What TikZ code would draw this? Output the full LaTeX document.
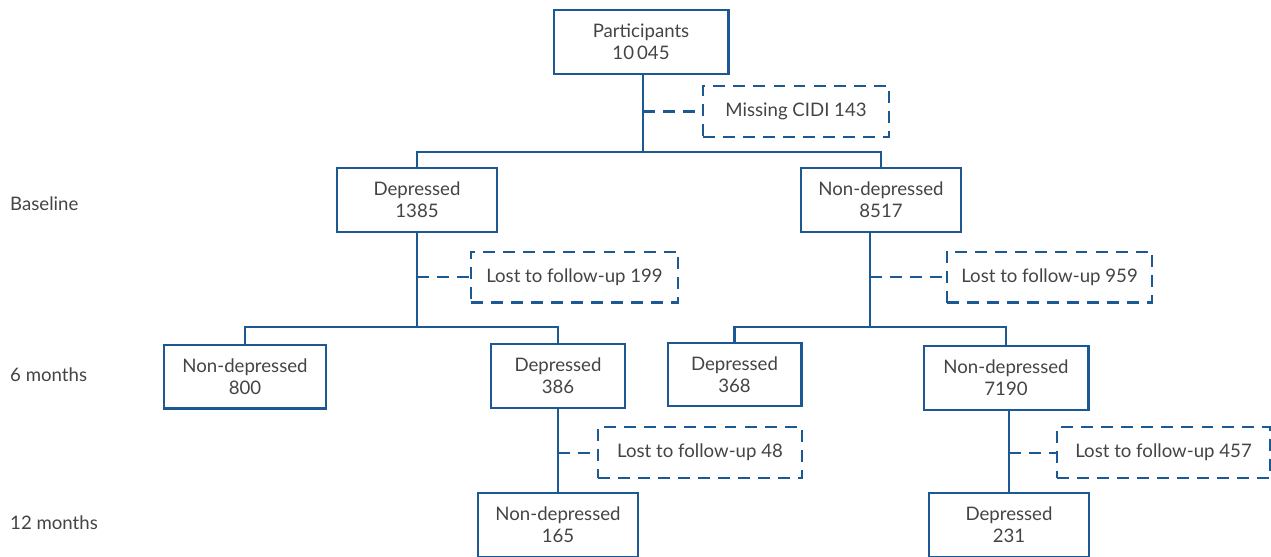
\documentclass[tikz,border=0pt]{standalone}
\usepackage{fontspec}
\setmainfont{Lato}
\usepackage{xcolor}
\usepackage{tikz}
\usetikzlibrary{calc}

\definecolor{flowblue}{RGB}{28,88,148}
\definecolor{flowtext}{RGB}{68,68,68}

\tikzset{
	box/.style = {draw = flowblue, line width = 1.15pt, text = flowtext, align = center,
		minimum width = 3.2cm, minimum height = 1.28cm, inner sep = 0pt,
		font = \fontsize{10.6}{12.3}\selectfont},
	lostbox/.style = {box, dash pattern = on 6.8pt off 4.6pt, minimum height = 1.02cm},
	link/.style = {draw = flowblue, line width = 1.15pt},
	lostlink/.style = {link, dash pattern = on 6.8pt off 4.6pt},
	stage/.style = {anchor = west, text = flowtext, font = \fontsize{10.6}{12.3}\selectfont}
}

\begin{document}
\begin{tikzpicture}[x = 0.02cm, y = -0.02cm]
		%definition of frame
		\useasboundingbox (0,0) rectangle (1271,556);
		
		%definition of widths of the boxes
		\def\wPart{3.5cm};
		\def\wSmall{2.68cm};
		
		%stages
		\node [stage] (base) at (4,204) {Baseline};
		\node [stage] (six) at (4,375) {6 months};
		\node [stage] (twelve) at (4,523) {12 months};
		
		%boxes
		\node [box, minimum width = \wPart] (part) at (641,42) {Participants\\10\,045};
		\node [lostbox, minimum width = 3.72cm] (miss) at (796,111.5) {Missing CIDI 143};
		
		\node [box] (dep0) at (417,200) {Depressed\\1385};
		\node [box] (non0) at (881,200) {Non-depressed\\8517};
		
		\node [lostbox, minimum width = 4.14cm] (lostA) at (574.5,277) {Lost to follow-up 199};
		\node [lostbox, minimum width = 4.1cm] (lostB) at (1049.5,277) {Lost to follow-up 959};
		
		\node [box, minimum width = 3.24cm] (non1a) at (245,376.5) {Non-depressed\\800};
		\node [box, minimum width = \wSmall] (dep1a) at (558,376) {Depressed\\386};
		\node [box, minimum width = \wSmall, minimum height = 1.26cm] (dep1b) at (734.5,374.5) {Depressed\\368};
		\node [box, minimum width = 3.3cm] (non1b) at (1006,378) {Non-depressed\\7190};
		
		\node [lostbox, minimum width = 4.08cm] (lostC) at (700,452.5) {Lost to follow-up 48};
		\node [lostbox, minimum width = 4.26cm] (lostD) at (1163.5,452.5) {Lost to follow-up 457};
		
		\node [box] (non2a) at (558,525) {Non-depressed\\165};
		\node [box] (dep2b) at (1009,525) {Depressed\\231};
		
		%branching points
		\coordinate (b0) at (643,152);
		\coordinate (b1) at (417,327);
		\coordinate (b2) at (870,327);
		
		%connectors
		\draw [link] (b0 |- part.south) -- (b0);
		\draw [link] (dep0.north) |- (b0) -| (non0.north);
		\draw [lostlink] (b0 |- miss) -- (miss.west);
		
		\draw [link] (dep0.south) -- (b1);
		\draw [link] (non1a.north) |- (b1) -| (dep1a.north);
		\draw [lostlink] (dep0 |- lostA) -- (lostA.west);
		
		\draw [link] (b2 |- non0.south) -- (b2);
		\draw [link] (dep1b.north) |- (b2) -| (non1b.north);
		\draw [lostlink] (b2 |- lostB) -- (lostB.west);
		
		\draw [link] (dep1a.south) -- (non2a.north);
		\draw [lostlink] (dep1a |- lostC) -- (lostC.west);
		
		\draw [link] (dep2b.north |- non1b.south) -- (dep2b.north);
		\draw [lostlink] (dep2b |- lostD) -- (lostD.west);
		
	\end{tikzpicture}
\end{document}
